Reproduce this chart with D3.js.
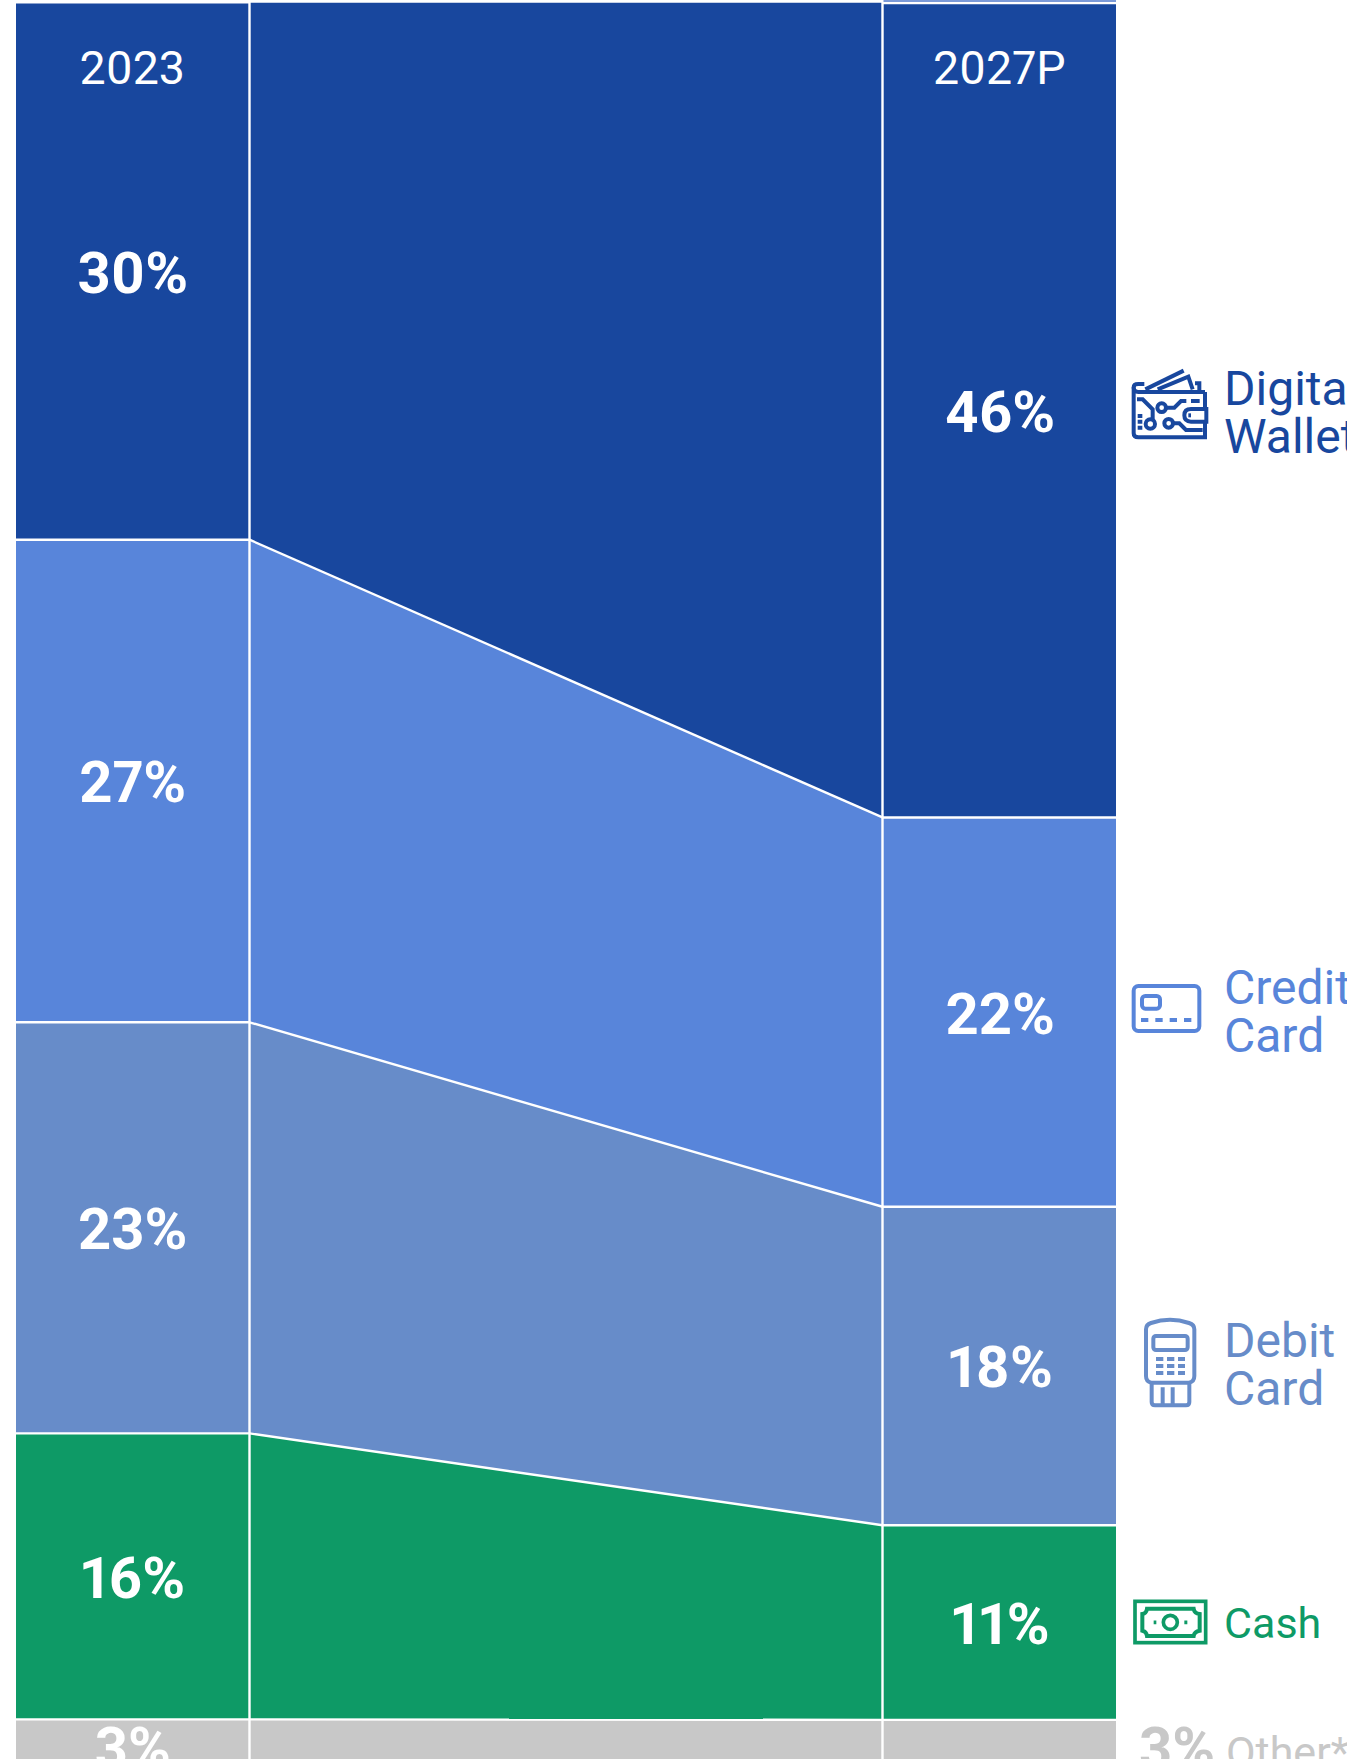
<!DOCTYPE html>
<html><head><meta charset="utf-8">
<script src="https://cdn.jsdelivr.net/npm/d3@7/dist/d3.min.js"></script>
<style>html,body{margin:0;padding:0;background:#fff;overflow:hidden}svg{display:block}text{font-family:Roboto,sans-serif;font-variant-numeric:proportional-nums}</style>
</head><body><svg id="c" width="1347" height="1759"></svg>
<script>
const categories=["Digital Wallet","Credit Card","Debit Card","Cash","Other*"];
const years=["2023","2027P"];
const values2023=[30,27,23,16,3];
const values2027=[46,22,18,11,3];
const colors=["#18479e","#5885da","#678cc9","#0e9a66","#c8c8c8"];
const legendLines=[["Digital","Wallet"],["Credit","Card"],["Debit","Card"],["Cash"],["Other*"]];
const legendSizes=[48,48,48,43,43];

const W=1347,H=1759;
const svg=d3.select("#c");
const stack=v=>{let s=0;return v.map(d=>{const a=s;s+=d;return [a,s];});};
const s23=stack(values2023),s27=stack(values2027);
const yL=d3.scaleLinear().domain([0,d3.sum(values2023)]).range([3.5,1773]);
const yR=d3.scaleLinear().domain([0,d3.sum(values2027)]).range([3.5,1773]);
const x=d3.scaleOrdinal().domain(["l0","l1","r0","r1"]).range([16,249.5,882.5,1116]);
const line=d3.line();

categories.forEach((c,i)=>{
  svg.append("rect").attr("x",x("l0")).attr("y",yL(s23[i][0])).attr("width",x("l1")-x("l0")).attr("height",yL(s23[i][1])-yL(s23[i][0])).attr("fill",colors[i]);
  svg.append("rect").attr("x",x("r0")).attr("y",yR(s27[i][0])).attr("width",x("r1")-x("r0")).attr("height",yR(s27[i][1])-yR(s27[i][0])).attr("fill",colors[i]);
  svg.append("path").attr("d",line([
    [x("l1"),i==0?2:yL(s23[i][0])],[x("r0"),i==0?2:yR(s27[i][0])],
    [x("r0"),yR(s27[i][1])],[x("l1"),yL(s23[i][1])]])+"Z").attr("fill",colors[i]);
});
// separators
const sep=(x1,y1,x2,y2)=>svg.append("line").attr("x1",x1).attr("y1",y1).attr("x2",x2).attr("y2",y2).attr("stroke","#fff").attr("stroke-width",2.4);
categories.forEach((c,i)=>{
  if(i==0) return;
  const a=yL(s23[i][0]),b=yR(s27[i][0]);
  sep(x("l0"),a,x("l1"),a);sep(x("l1"),a,x("r0"),b);sep(x("r0"),b,x("r1"),b);
});
sep(x("l1"),0,x("l1"),H);sep(x("r0"),0,x("r0"),H);
sep(x("l1"),1.5,x("r0"),1.5);
sep(x("r0"),3,x("r1"),3);
svg.append("rect").attr("x",x("r0")+1).attr("y",0).attr("width",x("r1")-x("r0")-1).attr("height",2).attr("fill","#7b9ad8");

// year heads
[[years[0],(x("l0")+x("l1"))/2-0.5],[years[1],(x("r0")+x("r1"))/2]].forEach(([t,cx])=>{
  svg.append("text").attr("x",cx).attr("y",84).attr("text-anchor","middle").attr("font-size",46.5).attr("fill","#fff").text(t);
});
// value labels
const lab=(v,cx,cy)=>svg.append("text").attr("x",cx).attr("y",cy+0.8).attr("dy","0.355em").attr("text-anchor","middle").attr("font-size",58).attr("font-weight",700).attr("fill","#fff").text(v+"%");
categories.forEach((c,i)=>{
  lab(values2023[i],(x("l0")+x("l1"))/2,(yL(s23[i][0])+yL(s23[i][1]))/2);
  if(i<4) lab(values2027[i],(x("r0")+x("r1"))/2+1,(yR(s27[i][0])+yR(s27[i][1]))/2);
});
// legend text
const legendY=[[405,453],[1003.5,1052],[1357,1405],[1638],[1767]];
categories.forEach((c,i)=>{
  legendLines[i].forEach((t,j)=>{
    svg.append("text").attr("x",i==4?1226:1224).attr("y",legendY[i][j]).attr("font-size",legendSizes[i]).attr("fill",colors[i]).text(t);
  });
});
svg.append("text").attr("x",1139).attr("y",1768).attr("font-size",58).attr("font-weight",700).attr("fill",colors[4]).text(values2027[4]+"%");

// icons
const icon=(ox,oy,col,sw)=>svg.append("g").attr("transform",`translate(${ox},${oy}) scale(${1/3})`).attr("fill","none").attr("stroke",col).attr("stroke-width",sw);
let g=icon(1111,340,colors[0],12);
["M282 156H82Q68 156 68 142Q68 132 82 132H100","M68 142V280Q68 292 82 292H282V245","M282 156V205",
 "M286 207H240Q220 207 220 226Q220 245 240 245H286Z","M103 148L218 92","M140 148L232 110L245 148","M252 130H265V150",
 "M78 178H95L125 208V238","M165 203H190L210 183H226","M186 250H205L225 270H275","M240 183H266","M80 228H94M80 245H94M80 263H94","M232 226H240"
].forEach(d=>g.append("path").attr("d",d));
[[118,252,14],[152,203,13],[173,250,13]].forEach(a=>g.append("circle").attr("cx",a[0]).attr("cy",a[1]).attr("r",a[2]));

g=icon(1111,950,colors[1],12);
g.append("rect").attr("x",68).attr("y",108).attr("width",197).attr("height",135).attr("rx",14);
g.append("rect").attr("x",93).attr("y",138).attr("width",54).attr("height",38).attr("rx",10);
g.append("path").attr("d","M90 210H243").attr("stroke-dasharray","22 21");

g=icon(1111,1300,colors[2],12);
g.append("path").attr("d","M105 88Q105 74 120 69Q177 50 234 69Q250 74 250 88V228Q250 245 234 248H121Q105 245 105 228Z");
g.append("rect").attr("x",127).attr("y",108).attr("width",103).attr("height",42).attr("rx",8);
g.append("path").attr("d","M135 177H222M135 198H222M135 219H222").attr("stroke-width",12).attr("stroke-dasharray","22 11");
g.append("path").attr("d","M122 250V306Q122 316 132 316H225Q235 316 235 306V250M155 262V316M185 262V316");

g=icon(1111,1580,colors[3],11);
g.append("rect").attr("x",72).attr("y",64).attr("width",212).attr("height",124);
g.append("path").attr("stroke-width",12).attr("d","M108 86H248Q250 100 266 102V152Q250 154 248 168H108Q106 154 94 152V102Q106 100 108 86Z");
g.append("circle").attr("cx",178).attr("cy",127).attr("r",21).attr("stroke-width",11);
g.append("path").attr("stroke-width",11).attr("d","M128 127H136M220 127H229");
</script></body></html>
